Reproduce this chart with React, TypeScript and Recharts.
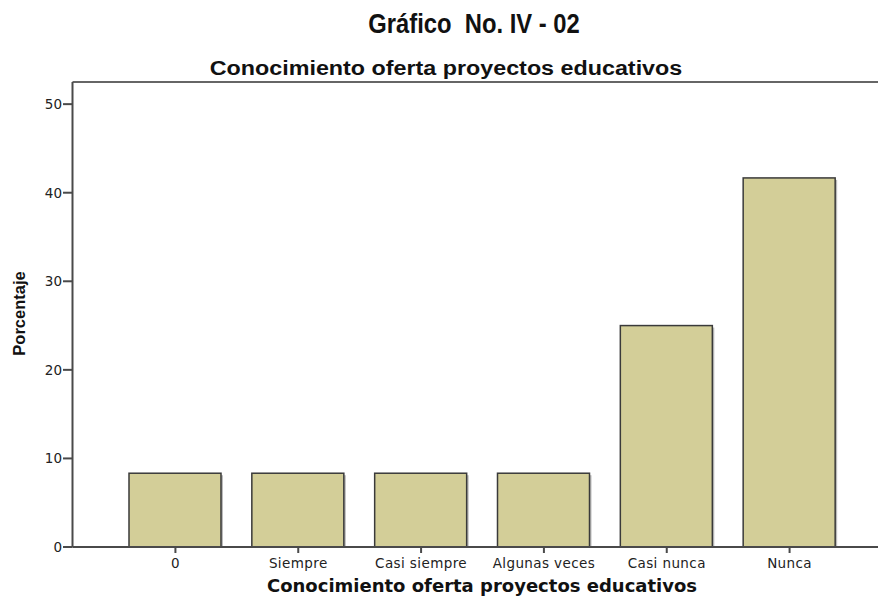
import { BarChart, Bar, XAxis, YAxis, ReferenceLine } from "recharts";

const categories = ["0", "Siempre", "Casi siempre", "Algunas veces", "Casi nunca", "Nunca"];
const percentages = [8.33, 8.33, 8.33, 8.33, 25, 41.67];
const yTicks = [0, 10, 20, 30, 40, 50];
const yMax = 52.5;

const data = categories.map((category, i) => ({ category, value: percentages[i] }));

const axisColor = "#4a4a4a";

// bar with a small gray drop shadow, like the SPSS output
function ShadowBar(props: any) {
  const { x, y, width, height } = props;
  if (!height) return null;
  return (
    <g>
      <rect x={x + 2} y={y + 2} width={width} height={height - 2} fill="#bcbcbc" />
      <rect x={x} y={y} width={width} height={height} fill="#d3ce98" stroke="#3a3a3a" strokeWidth={1.5} />
    </g>
  );
}

function App() {
  return (
    <div style={{ position: "absolute", left: 0, top: 0, width: 878, height: 596, background: "#fff", overflow: "hidden" }}>
      <BarChart
        width={878}
        height={596}
        data={data}
        margin={{ top: 82, right: 0, bottom: 0, left: 0 }}
      >
        <ReferenceLine y={yMax} stroke="#666" strokeWidth={2} />
        <XAxis
          dataKey="category"
          interval={0}
          padding={{ left: 41.5, right: 27 }}
          height={49}
          tickSize={6}
          tickMargin={5}
          axisLine={{ stroke: axisColor, strokeWidth: 2 }}
          tickLine={{ stroke: axisColor, strokeWidth: 2 }}
          tick={{ fill: "#222", fontSize: 13.5, fontFamily: "DejaVu Sans", letterSpacing: 0.4 }}
        />
        <YAxis
          type="number"
          domain={[0, yMax]}
          ticks={yTicks}
          width={72.5}
          tickSize={9.5}
          tickMargin={1}
          axisLine={{ stroke: axisColor, strokeWidth: 2 }}
          tickLine={{ stroke: axisColor, strokeWidth: 2 }}
          tick={{ fill: "#222", fontSize: 13.5, fontFamily: "DejaVu Sans" }}
        />
        <Bar dataKey="value" barSize={92} shape={ShadowBar} isAnimationActive={false} />
      </BarChart>

      <svg width={878} height={596} style={{ position: "absolute", left: 0, top: 0, pointerEvents: "none" }}>
        <text
          transform="translate(474 33) scale(0.85 1)"
          textAnchor="middle"
          fontFamily="Liberation Sans"
          fontWeight="bold"
          fontSize={28}
          fill="#111"
          style={{ whiteSpace: "pre" }}
        >
          Gráfico  No. IV - 02
        </text>
        <text
          transform="translate(446 75) scale(1.11 1)"
          textAnchor="middle"
          fontFamily="Liberation Sans"
          fontWeight="bold"
          fontSize={21}
          fill="#111"
        >
          Conocimiento oferta proyectos educativos
        </text>
        <text x={482} y={592} textAnchor="middle" fontFamily="DejaVu Sans" fontWeight="bold" fontSize={18} fill="#111">
          Conocimiento oferta proyectos educativos
        </text>
        <text
          x={25}
          y={313.5}
          textAnchor="middle"
          transform="rotate(-90 25 313.5)"
          fontFamily="Liberation Sans"
          fontWeight="bold"
          fontSize={16.5}
          fill="#111"
        >
          Porcentaje
        </text>
      </svg>
    </div>
  );
}

export default App;
